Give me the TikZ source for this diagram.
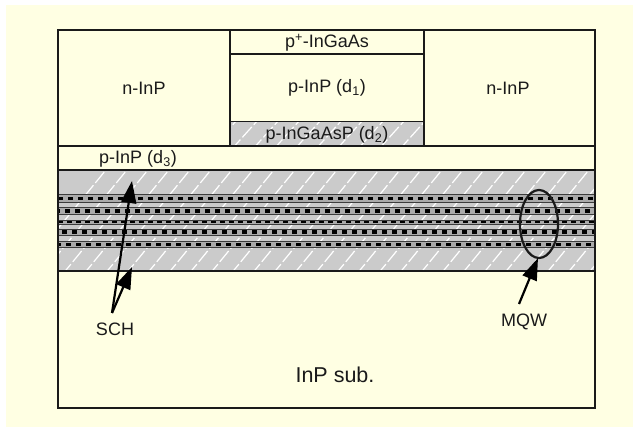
\documentclass[tikz,border=0pt]{standalone}
\usepackage{fontspec}
\setmainfont{Liberation Sans}
\usetikzlibrary{arrows.meta,shapes.geometric}
\definecolor{paper}{HTML}{FFFFE3}
\definecolor{layergray}{HTML}{CBCBCB}
\definecolor{wellgray}{HTML}{AAAAAA}
\definecolor{inkline}{HTML}{1A1A1A}
\tikzset{
  edge/.style={draw=inkline,line width=1.3pt},
  label/.style={inner sep=0pt,font=\fontsize{18}{20}\selectfont,text=inkline},
  hatch/.style={white,line width=1.2pt,dash pattern=on 14pt off 3pt},
  dots/.style={black,line width=3.2pt,dash pattern=on 5pt off 5pt},
  pointer/.style={black,line width=2.2pt,-{Triangle[length=22pt,width=15pt]}},
}
\begin{document}
\begin{tikzpicture}[x=1pt,y=-1pt]
\useasboundingbox (0,0) rectangle (633,427);
\fill[white] (0,0) rectangle (633,427);
\fill[paper] (6,5) rectangle (633,427);
% gray layers
\fill[layergray] (58,170) rectangle (595,271);
\fill[layergray] (230,121.5) rectangle (424,146);
\begin{scope}
\clip (58,170) rectangle (595,271);
\foreach \i in {0,...,27} {
  \draw[hatch] ({20+\i*21},275) -- ++(90,-110);
}
\end{scope}
\begin{scope}
\clip (230,121.5) rectangle (424,146);
\foreach \i in {0,...,10} {
  \draw[hatch] ({210+\i*21},150) -- ++(27,-30);
}
\end{scope}
% quantum wells
\foreach \a/\b in {194/202,207/214,220/224,229/235,241/247} {
  \fill[wellgray] (58,\a) rectangle (595,\b);
  \draw[inkline!85,line width=.9pt] (58,\a) -- (595,\a);
  \draw[inkline!85,line width=.9pt] (58,\b) -- (595,\b);
}
\foreach \y/\p in {198.5/0,211/3,232/6,244.5/2} {
  \draw[dots,dash phase=\p pt] (58,\y) -- (595,\y);
}
\draw[black,line width=1.5pt,dash pattern=on 5pt off 4pt] (58,222) -- (595,222);
% frame and walls
\draw[edge] (58,170) -- (595,170);
\draw[edge] (58,271) -- (595,271);
\draw[edge] (58,146) -- (595,146);
\draw[edge] (230,54) -- (424,54);
\draw[edge] (230,121.5) -- (424,121.5);
\draw[edge] (230,30) -- (230,146);
\draw[edge] (424,30) -- (424,146);
\draw[edge] (58,30) rectangle (595,408);
% labels
\node[label] (ninpl) at (144,88) {n-InP};
\node[label] (ninpr) at (508,88) {n-InP};
\node[label] (cap) at (327,43) {p\textsuperscript{+}-InGaAs};
\node[label] (d1) at (327,88) {p-InP (d\textsubscript{1})};
\node[label] (d2) at (327,135) {p-InGaAsP (d\textsubscript{2})};
\node[label] (d3) at (138,159) {p-InP (d\textsubscript{3})};
\node[label] (sch) at (115,329) {SCH};
\node[label] (mqw) at (524,322) {MQW};
\node[label,font=\fontsize{21.5}{24}\selectfont] (sub) at (335,375) {InP sub.};
% ellipse and pointers
\node[draw=inkline,line width=2.2pt,ellipse,minimum width=38pt,minimum height=68pt,inner sep=0pt] (mqwring) at (539,224) {};
\coordinate (schfoot) at (112,313);
\coordinate (schtipa) at (132,181);
\coordinate (schtipb) at (132,267);
\coordinate (mqwfoot) at (519,304);
\coordinate (mqwtip) at (538,258);
\draw[pointer] (schfoot) -- (schtipa);
\draw[pointer] (schfoot) -- (schtipb);
\draw[pointer] (mqwfoot) -- (mqwtip);
\end{tikzpicture}
\end{document}
